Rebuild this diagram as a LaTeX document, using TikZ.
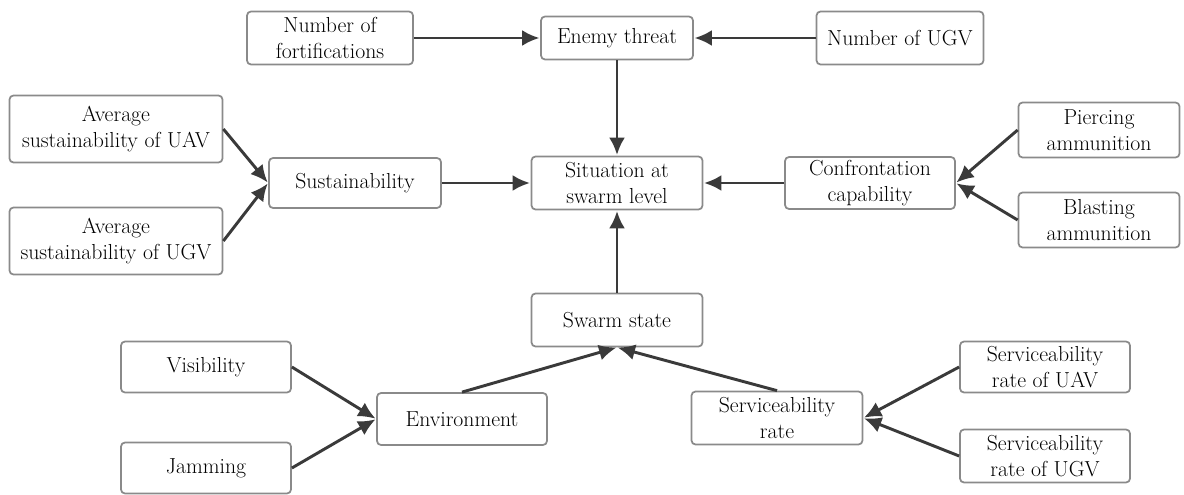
\documentclass[tikz,border=0pt]{standalone}
\usetikzlibrary{arrows.meta}
\definecolor{boxline}{HTML}{8A8A8A}
\definecolor{link}{HTML}{3A3A3A}
\tikzset{
  box/.style={draw=boxline, line width=1.3pt, rounded corners=3pt, fill=white,
    align=center, inner sep=0pt, text=black,
    font=\fontsize{16.3pt}{19.5pt}\selectfont},
  wh/.style 2 args={minimum width=#1*0.75pt, minimum height=#2*0.75pt},
  link/.style={draw=link, line width=2.2pt,
    -{Latex[length=13pt,width=12pt]}, shorten >=0.5pt}
}
\begin{document}
\begin{tikzpicture}[x=0.75pt,y=-0.75pt]
\useasboundingbox (0,0) rectangle (1184,495);
% top row
\node[box,wh={166}{53}] (fort)  at (330,38)  {Number of\\fortifications};
\node[box,wh={152}{43}] (enemy) at (617,38)  {Enemy threat};
\node[box,wh={167}{53}] (ugv)   at (900,38)  {Number of UGV};
% middle row
\node[box,wh={213}{67}] (avguav) at (116,129) {Average\\sustainability of UAV};
\node[box,wh={213}{67}] (avgugv) at (116,241) {Average\\sustainability of UGV};
\node[box,wh={172}{50}] (sust)   at (355,183) {Sustainability};
\node[box,wh={171}{53}] (sit)    at (617,183) {Situation at\\swarm level};
\node[box,wh={170}{52}] (conf)   at (870,183) {Confrontation\\capability};
\node[box,wh={161}{55}] (pierce) at (1099,130) {Piercing\\ammunition};
\node[box,wh={161}{55}] (blast)  at (1099,220) {Blasting\\ammunition};
% bottom part
\node[box,wh={171}{53}] (swarm) at (617,320) {Swarm state};
\node[box,wh={170}{51}] (vis)   at (206,367) {Visibility};
\node[box,wh={170}{51}] (jam)   at (206,468) {Jamming};
\node[box,wh={170}{52}] (env)   at (462,419) {Environment};
\node[box,wh={171}{53}] (serv)  at (777,418) {Serviceability\\rate};
\node[box,wh={170}{51}] (suav)  at (1045,367) {Serviceability\\rate of UAV};
\node[box,wh={170}{53}] (sugv)  at (1045,456) {Serviceability\\rate of UGV};
% connectors
\draw[link] (fort.east) -- (enemy.west);
\draw[link] (ugv.west) -- (enemy.east);
\draw[link] (enemy.south) -- (sit.north);
\draw[link] (avguav.east) -- (sust.west);
\draw[link] (avgugv.east) -- (sust.west);
\draw[link] (sust.east) -- (sit.west);
\draw[link] (pierce.west) -- (conf.east);
\draw[link] (blast.west) -- (conf.east);
\draw[link] (conf.west) -- (sit.east);
\draw[link] (swarm.north) -- (sit.south);
\draw[link] (vis.east) -- (env.west);
\draw[link] (jam.east) -- (env.west);
\draw[link] (env.north) -- (swarm.south);
\draw[link] (serv.north) -- (swarm.south);
\draw[link] (suav.west) -- (serv.east);
\draw[link] (sugv.west) -- (serv.east);
\end{tikzpicture}
\end{document}
